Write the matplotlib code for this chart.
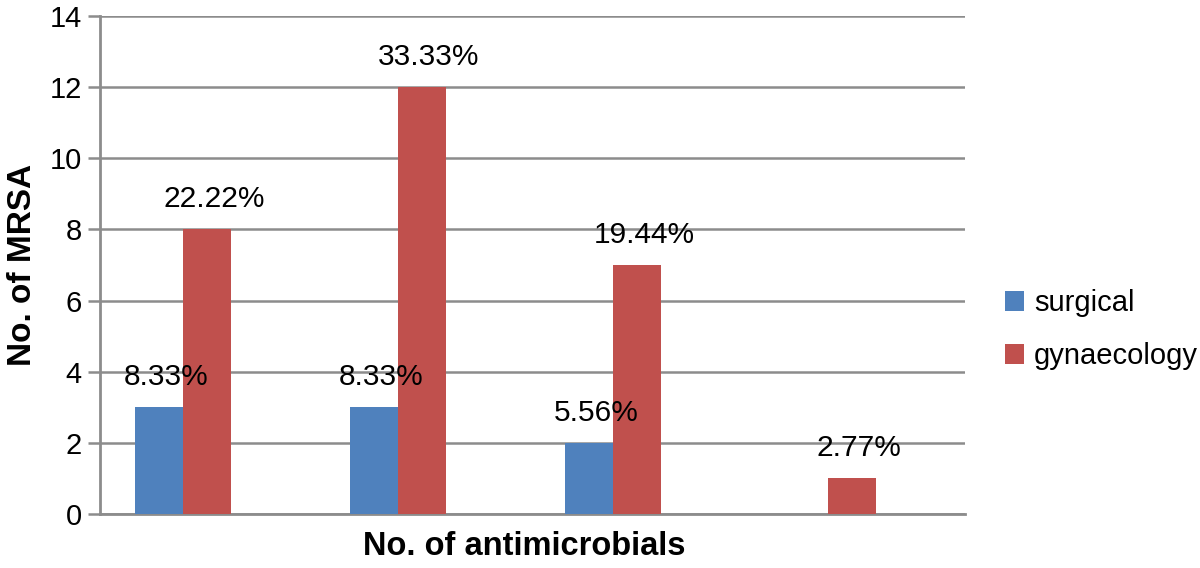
import numpy as np
import matplotlib
matplotlib.use('Agg')
import matplotlib.pyplot as plt

plt.rcParams['font.family'] = ['Liberation Sans', 'DejaVu Sans']

groups = ['1', '2', '3', '4']
surgical = [3, 3, 2, 0]
gynae = [8, 12, 7, 1]
surgical_lbl = ['8.33%', '8.33%', '5.56%', '']
gynae_lbl = ['22.22%', '33.33%', '19.44%', '2.77%']

blue = '#4F81BD'
red = '#C0504D'
grey = '#8C8C8C'

fig = plt.figure(figsize=(12, 5.68), dpi=100)
ax = fig.add_axes([0.0833, 0.095, 0.7208, 0.877])

x = np.arange(len(groups))
w = 0.223
ax.bar(x - w / 2, surgical, w, color=blue, label='surgical', zorder=3)
ax.bar(x + w / 2, gynae, w, color=red, label='gynaecology', zorder=3)

# percentage labels above bars (none for the empty surgical bar)
for i in range(len(groups)):
    if surgical[i] > 0:
        ax.annotate(surgical_lbl[i], (x[i] - w / 2, surgical[i]), xytext=(5, 11.5),
                    textcoords='offset points', ha='center', va='bottom', fontsize=21.5, zorder=4)
    ax.annotate(gynae_lbl[i], (x[i] + w / 2, gynae[i]), xytext=(5, 11.5),
                textcoords='offset points', ha='center', va='bottom', fontsize=21.5, zorder=4)

ax.set_xlim(-0.386, 3.637)
ax.set_ylim(0, 14)
ax.set_yticks(range(0, 15, 2))
ax.set_xticks([])
ax.yaxis.grid(True, color=grey, linewidth=1.8, zorder=0)
ax.tick_params(axis='y', length=9, width=1.8, color=grey, labelsize=21, pad=4)
for s in ['top', 'right']:
    ax.spines[s].set_visible(False)
for s in ['left', 'bottom']:
    ax.spines[s].set_color(grey)
    ax.spines[s].set_linewidth(2)
ax.spines['left'].set_zorder(5)

ax.set_xlabel('No. of antimicrobials', fontsize=23.5, fontweight='bold', labelpad=12)
ax.xaxis.label.set_position((0.491, 0))
ax.set_ylabel('No. of MRSA', fontsize=24, fontweight='bold', labelpad=8)

ax.legend(loc='center left', bbox_to_anchor=(1.016, 0.37), frameon=False, fontsize=21,
          handlelength=0.65, handleheight=0.65, handletextpad=0.35, labelspacing=0.85)

fig.savefig('out.png', dpi=100)
